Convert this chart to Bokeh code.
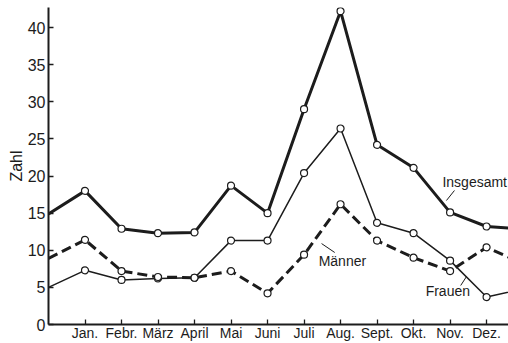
from bokeh.plotting import figure
from bokeh.models import Range1d, FixedTicker, Label
from bokeh.embed import file_html
from bokeh.resources import INLINE

# ---- data ----
months = ["Jan.", "Febr.", "März", "April", "Mai", "Juni", "Juli",
          "Aug.", "Sept.", "Okt.", "Nov.", "Dez."]
insgesamt = [18.0, 12.9, 12.3, 12.4, 18.7, 15.0, 29.0, 42.2, 24.2, 21.1, 15.1, 13.2]
maenner = [11.4, 7.2, 6.4, 6.3, 7.2, 4.2, 9.4, 16.2, 11.3, 9.0, 7.2, 10.4]
frauen = [7.3, 6.0, 6.2, 6.3, 11.3, 11.3, 20.4, 26.4, 13.7, 12.3, 8.6, 3.7]
# neighbouring months (previous December / following January) so the curves run to the frame edges
insgesamt_prev, insgesamt_next = 14.9, 12.85
maenner_prev, maenner_next = 8.9, 8.2
frauen_prev, frauen_next = 5.0, 4.8
y_ticks = [0, 5, 10, 15, 20, 25, 30, 35, 40]

FONT = "Liberation Sans"
INK = "#1c1c1c"

xs = list(range(1, len(months) + 1))
xs_ext = [0] + xs + [len(months) + 1]

p = figure(width=508, height=343, output_backend="svg", toolbar_location=None,
           x_range=Range1d(0, 12.6), y_range=Range1d(0, 42.7),
           min_border_left=48, min_border_right=0, min_border_top=7, min_border_bottom=0)
p.outline_line_color = None
p.xgrid.grid_line_color = None
p.ygrid.grid_line_color = None
p.background_fill_color = "white"

# lines
p.line(xs_ext, [frauen_prev] + frauen + [frauen_next], line_color=INK, line_width=1.5)
p.line(xs_ext, [maenner_prev] + maenner + [maenner_next], line_color=INK, line_width=3,
       line_dash="10 5")
p.line(xs_ext, [insgesamt_prev] + insgesamt + [insgesamt_next], line_color=INK, line_width=3)

for series in (frauen, maenner, insgesamt):
    p.scatter(xs, series, marker="circle", size=7, fill_color="white",
              line_color=INK, line_width=1.2)

# labels with leader lines
def lab(x, y, t):
    p.add_layout(Label(x=x, y=y, text=t, text_font=FONT, text_font_size="14px",
                       text_color=INK, text_baseline="middle", text_align="left"))

lab(10.79, 19.26, "Insgesamt")
lab(7.40, 8.62, "Männer")
lab(10.33, 4.48, "Frauen")
p.segment(x0=[11.12, 7.48, 11.29], y0=[18.05, 10.9, 5.25],
          x1=[10.90, 7.84, 11.45], y1=[16.7, 9.7, 6.46],
          line_color=INK, line_width=1)

# axes
xa = p.xaxis[0]
xa.ticker = FixedTicker(ticks=xs)
xa.major_label_overrides = {x: m for x, m in zip(xs, months)}
ya = p.yaxis[0]
ya.ticker = FixedTicker(ticks=y_ticks)
ya.axis_label = "Zahl"
ya.axis_label_standoff = 0
ya.axis_label_text_font = FONT
ya.axis_label_text_font_size = "16px"
ya.axis_label_text_font_style = "normal"
ya.axis_label_text_color = INK
for ax in (xa, ya):
    ax.axis_line_width = 2
    ax.axis_line_color = INK
    ax.major_tick_in = 5
    ax.major_tick_out = 0
    ax.major_tick_line_width = 1.3
    ax.major_tick_line_color = INK
    ax.minor_tick_line_color = None
    ax.major_label_text_font = FONT
    ax.major_label_text_color = INK
xa.major_label_standoff = 0
ya.major_label_standoff = 3
xa.major_label_text_font_size = "14px"
ya.major_label_text_font_size = "16px"

open("out.html", "w").write(file_html(p, INLINE))
